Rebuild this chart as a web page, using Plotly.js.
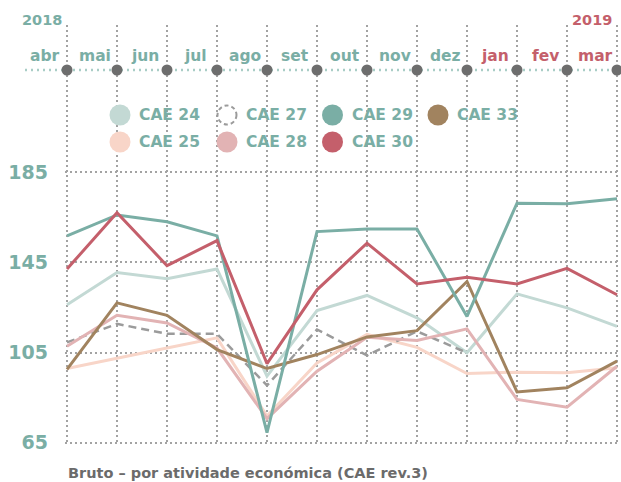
<!DOCTYPE html>
<html>
<head>
<meta charset="utf-8">
<script src="https://cdn.plot.ly/plotly-3.0.1.min.js"></script>
<style>html,body{margin:0;padding:0;background:#fff;}#chart{width:621px;height:482px;}</style>
</head>
<body>
<div id="chart"></div>
<script>
// ---- data ----
const months = ['abr','mai','jun','jul','ago','set','out','nov','dez','jan','fev','mar'];
const monthYear = ['2018','2018','2018','2018','2018','2018','2018','2018','2018','2019','2019','2019'];
const yearLabels = ['2018','2019'];
const yTicks = [65,105,145,185];

const cae24 = [126.2,140.5,137.7,142.0,94.5,123.6,130.3,120.4,104.9,131.0,124.8,116.6];
const cae25 = [97.9,102.6,107.0,111.5,76.8,100.4,113.0,107.3,95.7,96.3,96.0,98.2];
const cae27 = [109.5,117.7,113.3,113.3,90.4,115.2,103.7,114.4,104.9,null,null,null];
const cae28 = [107.8,121.5,118.1,107.0,75.7,96.7,111.8,110.3,115.5,84.2,80.8,98.9];
const cae29 = [156.7,166.0,163.0,156.7,69.5,158.6,159.8,159.8,121.0,171.2,171.0,173.2];
const cae30 = [142.0,167.0,143.5,154.6,100.1,132.8,153.5,135.4,138.4,135.4,142.3,130.6];
const cae33 = [97.5,127.0,121.5,106.3,97.9,104.1,111.9,114.7,136.5,87.5,89.4,101.2];

const seriesNames = ['CAE 24','CAE 27','CAE 29','CAE 33','CAE 25','CAE 28','CAE 30'];
const seriesData  = [cae24, cae27, cae29, cae33, cae25, cae28, cae30];

// ---- styles ----
const TEAL = '#7aaea5', RED = '#c45f6b', GRID = '#a3a3a3';
const styles = {
  'CAE 24': {color:'#c3d9d4', width:3},
  'CAE 25': {color:'#f8d5c8', width:3},
  'CAE 27': {color:'#9b9b9b', width:2.5, dash:'8px,5px'},
  'CAE 28': {color:'#e2b3b4', width:3},
  'CAE 29': {color:'#7aaea5', width:3},
  'CAE 30': {color:'#c45f6b', width:3},
  'CAE 33': {color:'#a1835f', width:3}
};
const drawOrder = ['CAE 24','CAE 25','CAE 27','CAE 28','CAE 33','CAE 29','CAE 30'];
const FONT = '"DejaVu Sans", "Open Sans", sans-serif';

// ---- geometry helpers (layout only) ----
const W = 621, H = 482;
const M = {l:65, r:2, t:25, b:37};
const XR = [-0.04, 11.04], YR = [64, 250.2];
const pw = W - M.l - M.r, ph = H - M.t - M.b;
const px2paperX = px => (px - M.l) / pw;
const py2paperY = py => (H - M.b - py) / ph;
const x2paper = x => (x - XR[0]) / (XR[1] - XR[0]);

const idx = months.map((m,i) => i);

// ---- traces ----
const traces = drawOrder.map(name => {
  const s = styles[name];
  return {
    type:'scatter', mode:'lines', name:name,
    x: idx, y: seriesData[seriesNames.indexOf(name)],
    line:{color:s.color, width:s.width, dash:s.dash || 'solid'},
    connectgaps:false, cliponaxis:false, showlegend:false, hoverinfo:'x+y+name'
  };
});
// top axis dots at each month
const topAxisY = YR[0] + (YR[1]-YR[0]) * py2paperY(70);
traces.push({
  type:'scatter', mode:'markers', x: idx, y: idx.map(() => topAxisY),
  marker:{color:'#6d6d6d', size:11}, cliponaxis:false, showlegend:false, hoverinfo:'skip'
});

// ---- shapes & annotations ----
const shapes = [];
const annotations = [];

// top dotted axis line
shapes.push({type:'line', xref:'paper', yref:'paper', layer:'between',
  x0:px2paperX(25), x1:px2paperX(621), y0:py2paperY(70), y1:py2paperY(70),
  line:{color:'#a9cdc6', width:2.5, dash:'2px,4px'}});

// legend background
shapes.push({type:'rect', xref:'paper', yref:'paper', layer:'between',
  x0:px2paperX(76), x1:px2paperX(545), y0:py2paperY(95), y1:py2paperY(167),
  fillcolor:'#ffffff', line:{width:0}});

// legend entries (manual, 4 columns x 2 rows)
const legCols = [120, 227, 332.5, 438];
const legRows = [115, 142];
seriesNames.forEach((name, k) => {
  const cx = legCols[k % 4], cy = legRows[Math.floor(k / 4)];
  const s = styles[name];
  const r = 10.5;
  const isDash = !!s.dash;
  shapes.push({type:'circle', xref:'paper', yref:'paper', layer:'above',
    x0:px2paperX(cx - r + (isDash?1:0)), x1:px2paperX(cx + r - (isDash?1:0)),
    y0:py2paperY(cy + r - (isDash?1:0)), y1:py2paperY(cy - r + (isDash?1:0)),
    fillcolor: isDash ? 'rgba(255,255,255,0)' : s.color,
    line: isDash ? {color:'#9b9b9b', width:2, dash:'4px,3px'} : {width:0}});
  annotations.push({xref:'paper', yref:'paper', x:px2paperX(cx + 17), y:py2paperY(cy),
    xanchor:'left', yanchor:'middle', showarrow:false, text:name,
    font:{family:FONT, size:15.5, color:TEAL, weight:700}});
});

// month labels
months.forEach((m, i) => {
  annotations.push({xref:'paper', yref:'paper', x:x2paper(i - 0.44), y:py2paperY(56),
    xanchor:'center', yanchor:'middle', showarrow:false, text:m,
    font:{family:FONT, size:15.5, color: monthYear[i] === '2018' ? TEAL : RED, weight:700}});
});
// year labels
annotations.push({xref:'paper', yref:'paper', x:px2paperX(42), y:py2paperY(20),
  xanchor:'center', yanchor:'middle', showarrow:false, text:yearLabels[0],
  font:{family:FONT, size:14.5, color:TEAL, weight:700}});
annotations.push({xref:'paper', yref:'paper', x:px2paperX(592), y:py2paperY(20),
  xanchor:'center', yanchor:'middle', showarrow:false, text:yearLabels[1],
  font:{family:FONT, size:14.5, color:RED, weight:700}});
// bottom caption
annotations.push({xref:'paper', yref:'paper', x:px2paperX(66), y:py2paperY(473),
  xanchor:'left', yanchor:'middle', showarrow:false,
  text:'Bruto – por atividade económica (CAE rev.3)',
  font:{family:FONT, size:14.5, color:'#6b6b6b', weight:700}});

const layout = {
  width:W, height:H, margin:M,
  paper_bgcolor:'#ffffff', plot_bgcolor:'#ffffff',
  showlegend:false,
  xaxis:{range:XR, tickvals:idx, showticklabels:false, ticks:'',
    showgrid:true, gridcolor:GRID, gridwidth:2, griddash:'2px,3px',
    zeroline:false, showline:false, fixedrange:true},
  yaxis:{range:YR, tickvals:yTicks, ticktext:yTicks.map(String), ticks:'',
    showgrid:true, gridcolor:GRID, gridwidth:2, griddash:'2px,3px',
    zeroline:false, showline:false, ticklabelstandoff:16,
    tickfont:{family:FONT, size:19, color:TEAL, weight:700}, fixedrange:true},
  shapes:shapes, annotations:annotations,
  font:{family:FONT}
};

Plotly.newPlot('chart', traces, layout, {displayModeBar:false, staticPlot:true});
</script>
</body>
</html>
